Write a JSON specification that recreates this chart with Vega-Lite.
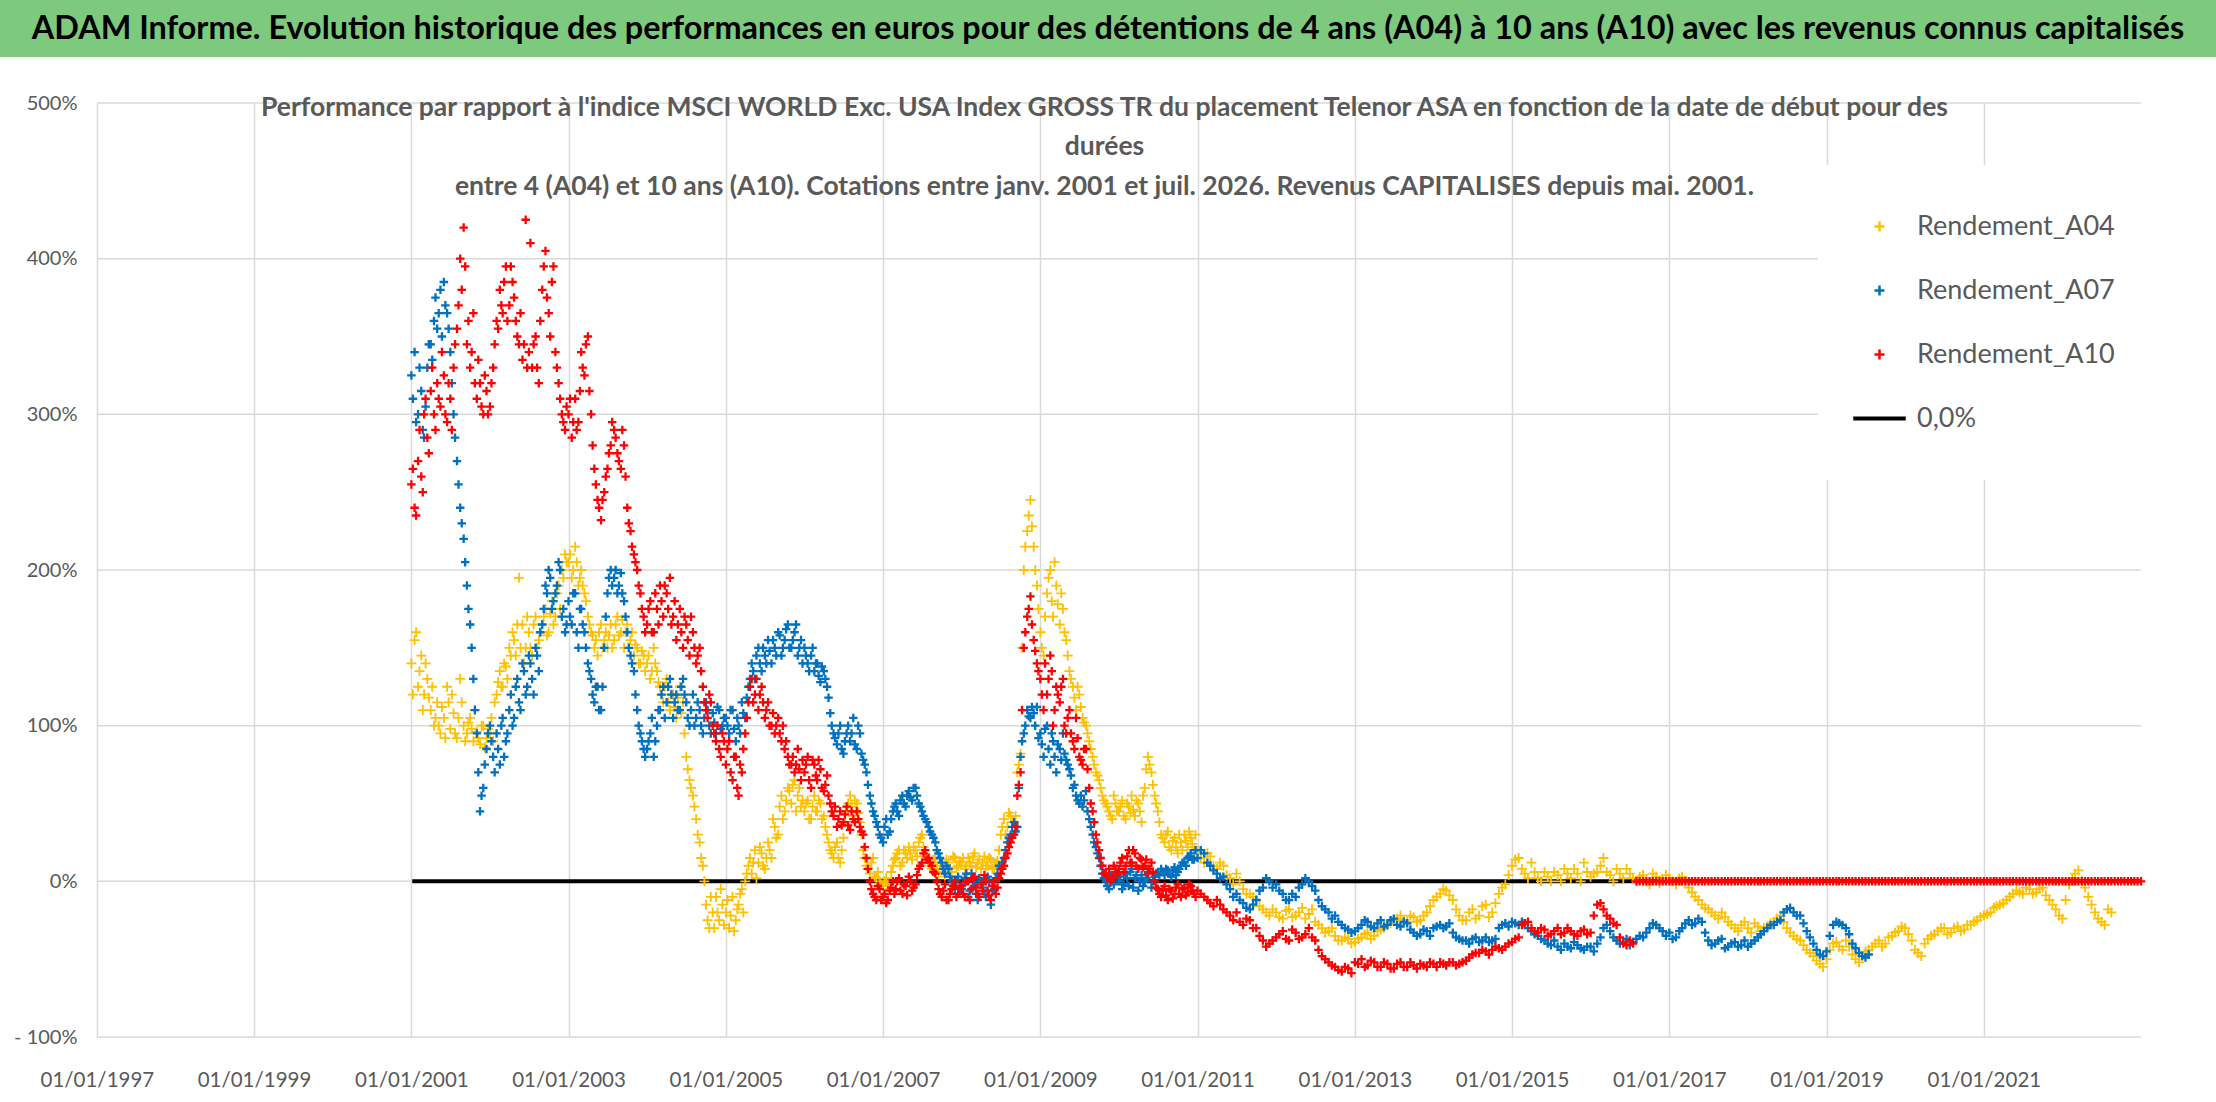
{
  "$schema": "https://vega.github.io/schema/vega-lite/v6.json",
  "padding": 0,
  "background": "white",
  "spacing": 36,
  "config": {"view": {"stroke": null}, "font": "Lato"},
  "datasets": {
    "zero": [{"d": "2001-01-05", "v": 0}, {"d": "2023-01-01", "v": 0}],
    "ygrid": [{"g": -100}, {"g": 0}, {"g": 100}, {"g": 200}, {"g": 300}, {"g": 400}, {"g": 500}],
    "perf": [
      {"d":"2001-01-01","a":140,"b":325,"c":255},{"d":"2001-01-16","a":155,"b":340,"c":240},
      {"d":"2001-02-01","a":125,"b":300,"c":270},{"d":"2001-02-16","a":145,"b":315,"c":260},
      {"d":"2001-03-01","a":120,"b":285,"c":300},{"d":"2001-03-16","a":130,"b":330,"c":285},
      {"d":"2001-04-01","a":110,"b":345,"c":315},{"d":"2001-04-16","a":100,"b":360,"c":300},
      {"d":"2001-05-01","a":115,"b":355,"c":320},{"d":"2001-05-16","a":95,"b":380,"c":305},
      {"d":"2001-06-01","a":105,"b":385,"c":325},{"d":"2001-06-16","a":125,"b":365,"c":295},
      {"d":"2001-07-01","a":98,"b":340,"c":310},{"d":"2001-07-16","a":108,"b":300,"c":330},
      {"d":"2001-08-01","a":92,"b":270,"c":355},{"d":"2001-08-16","a":130,"b":240,"c":400},
      {"d":"2001-09-01","a":100,"b":220,"c":420},{"d":"2001-09-16","a":95,"b":190,"c":345},
      {"d":"2001-10-01","a":105,"b":165,"c":330},{"d":"2001-10-16","a":90,"b":130,"c":365},
      {"d":"2001-11-01","a":96,"b":95,"c":310},{"d":"2001-11-16","a":88,"b":45,"c":320},
      {"d":"2001-12-01","a":100,"b":60,"c":300},{"d":"2001-12-16","a":92,"b":85,"c":315},
      {"d":"2002-01-01","a":95,"b":100,"c":305},{"d":"2002-01-16","a":90,"b":80,"c":330},
      {"d":"2002-02-01","a":120,"b":95,"c":360},{"d":"2002-02-16","a":135,"b":75,"c":380},
      {"d":"2002-03-01","a":125,"b":105,"c":365},{"d":"2002-03-16","a":138,"b":90,"c":395},
      {"d":"2002-04-01","a":150,"b":110,"c":370},{"d":"2002-04-16","a":160,"b":100,"c":385},
      {"d":"2002-05-01","a":145,"b":125,"c":360},{"d":"2002-05-16","a":195,"b":115,"c":345},
      {"d":"2002-06-01","a":165,"b":140,"c":335},{"d":"2002-06-16","a":150,"b":120,"c":425},
      {"d":"2002-07-01","a":160,"b":145,"c":340},{"d":"2002-07-16","a":145,"b":130,"c":330},
      {"d":"2002-08-01","a":170,"b":150,"c":350},{"d":"2002-08-16","a":155,"b":135,"c":320},
      {"d":"2002-09-01","a":165,"b":165,"c":380},{"d":"2002-09-16","a":175,"b":190,"c":405},
      {"d":"2002-10-01","a":160,"b":200,"c":365},{"d":"2002-10-16","a":180,"b":175,"c":385},
      {"d":"2002-11-01","a":170,"b":185,"c":340},{"d":"2002-11-16","a":190,"b":205,"c":320},
      {"d":"2002-12-01","a":200,"b":170,"c":300},{"d":"2002-12-16","a":210,"b":160,"c":290},
      {"d":"2003-01-01","a":205,"b":180,"c":300},{"d":"2003-01-16","a":195,"b":165,"c":285},
      {"d":"2003-02-01","a":215,"b":185,"c":310},{"d":"2003-02-16","a":190,"b":150,"c":295},
      {"d":"2003-03-01","a":200,"b":175,"c":340},{"d":"2003-03-16","a":185,"b":160,"c":325},
      {"d":"2003-04-01","a":170,"b":140,"c":350},{"d":"2003-04-16","a":160,"b":130,"c":300},
      {"d":"2003-05-01","a":150,"b":115,"c":265},{"d":"2003-05-16","a":145,"b":125,"c":245},
      {"d":"2003-06-01","a":165,"b":110,"c":232},{"d":"2003-06-16","a":155,"b":150,"c":250},
      {"d":"2003-07-01","a":150,"b":185,"c":265},{"d":"2003-07-16","a":165,"b":200,"c":280},
      {"d":"2003-08-01","a":155,"b":195,"c":290},{"d":"2003-08-16","a":170,"b":185,"c":275},
      {"d":"2003-09-01","a":160,"b":198,"c":265},{"d":"2003-09-16","a":150,"b":180,"c":280},
      {"d":"2003-10-01","a":165,"b":160,"c":240},{"d":"2003-10-16","a":155,"b":145,"c":225},
      {"d":"2003-11-01","a":145,"b":135,"c":210},{"d":"2003-11-16","a":150,"b":110,"c":200},
      {"d":"2003-12-01","a":140,"b":95,"c":185},{"d":"2003-12-16","a":145,"b":85,"c":170},
      {"d":"2004-01-01","a":140,"b":85,"c":165},{"d":"2004-01-16","a":130,"b":95,"c":180},
      {"d":"2004-02-01","a":150,"b":80,"c":160},{"d":"2004-02-16","a":135,"b":100,"c":175},
      {"d":"2004-03-01","a":125,"b":110,"c":190},{"d":"2004-03-16","a":115,"b":125,"c":170},
      {"d":"2004-04-01","a":130,"b":115,"c":185},{"d":"2004-04-16","a":110,"b":130,"c":195},
      {"d":"2004-05-01","a":120,"b":105,"c":170},{"d":"2004-05-16","a":105,"b":120,"c":155},
      {"d":"2004-06-01","a":125,"b":110,"c":175},{"d":"2004-06-16","a":115,"b":130,"c":150},
      {"d":"2004-07-01","a":80,"b":115,"c":165},{"d":"2004-07-16","a":65,"b":100,"c":145},
      {"d":"2004-08-01","a":55,"b":120,"c":160},{"d":"2004-08-16","a":40,"b":105,"c":140},
      {"d":"2004-09-01","a":25,"b":110,"c":150},{"d":"2004-09-16","a":10,"b":95,"c":125},
      {"d":"2004-10-01","a":-15,"b":115,"c":110},{"d":"2004-10-16","a":-30,"b":100,"c":120},
      {"d":"2004-11-01","a":-20,"b":108,"c":100},{"d":"2004-11-16","a":-10,"b":95,"c":90},
      {"d":"2004-12-01","a":-25,"b":110,"c":85},{"d":"2004-12-16","a":-15,"b":100,"c":95},
      {"d":"2005-01-01","a":-20,"b":105,"c":75},{"d":"2005-01-16","a":-30,"b":95,"c":90},
      {"d":"2005-02-01","a":-10,"b":110,"c":65},{"d":"2005-02-16","a":-25,"b":90,"c":80},
      {"d":"2005-03-01","a":-15,"b":100,"c":55},{"d":"2005-03-16","a":-5,"b":115,"c":70},
      {"d":"2005-04-01","a":0,"b":105,"c":95},{"d":"2005-04-16","a":10,"b":125,"c":115},
      {"d":"2005-05-01","a":5,"b":140,"c":130},{"d":"2005-05-16","a":20,"b":130,"c":120},
      {"d":"2005-06-01","a":12,"b":150,"c":110},{"d":"2005-06-16","a":18,"b":135,"c":125},
      {"d":"2005-07-01","a":8,"b":145,"c":105},{"d":"2005-07-16","a":25,"b":155,"c":115},
      {"d":"2005-08-01","a":15,"b":140,"c":100},{"d":"2005-08-16","a":35,"b":150,"c":95},
      {"d":"2005-09-01","a":30,"b":160,"c":105},{"d":"2005-09-16","a":55,"b":145,"c":90},
      {"d":"2005-10-01","a":45,"b":155,"c":85},{"d":"2005-10-16","a":60,"b":165,"c":80},
      {"d":"2005-11-01","a":50,"b":150,"c":75},{"d":"2005-11-16","a":65,"b":160,"c":70},
      {"d":"2005-12-01","a":55,"b":145,"c":85},{"d":"2005-12-16","a":48,"b":155,"c":65},
      {"d":"2006-01-01","a":45,"b":150,"c":70},{"d":"2006-01-16","a":52,"b":140,"c":80},
      {"d":"2006-02-01","a":40,"b":145,"c":60},{"d":"2006-02-16","a":55,"b":135,"c":75},
      {"d":"2006-03-01","a":45,"b":140,"c":65},{"d":"2006-03-16","a":50,"b":128,"c":72},
      {"d":"2006-04-01","a":42,"b":135,"c":58},{"d":"2006-04-16","a":30,"b":125,"c":68},
      {"d":"2006-05-01","a":20,"b":108,"c":50},{"d":"2006-05-16","a":15,"b":95,"c":42},
      {"d":"2006-06-01","a":25,"b":88,"c":35},{"d":"2006-06-16","a":12,"b":100,"c":45},
      {"d":"2006-07-01","a":28,"b":82,"c":38},{"d":"2006-07-16","a":45,"b":95,"c":48},
      {"d":"2006-08-01","a":55,"b":90,"c":33},{"d":"2006-08-16","a":42,"b":105,"c":40},
      {"d":"2006-09-01","a":50,"b":85,"c":45},{"d":"2006-09-16","a":38,"b":95,"c":35},
      {"d":"2006-10-01","a":20,"b":78,"c":30},{"d":"2006-10-16","a":10,"b":70,"c":15},
      {"d":"2006-11-01","a":5,"b":55,"c":0},{"d":"2006-11-16","a":15,"b":45,"c":-8},
      {"d":"2006-12-01","a":2,"b":38,"c":-12},{"d":"2006-12-16","a":0,"b":30,"c":-5},
      {"d":"2007-01-01","a":-3,"b":25,"c":-10},{"d":"2007-01-16","a":2,"b":40,"c":-14},
      {"d":"2007-02-01","a":-5,"b":32,"c":-6},{"d":"2007-02-16","a":10,"b":45,"c":0},
      {"d":"2007-03-01","a":15,"b":50,"c":-5},{"d":"2007-03-16","a":20,"b":42,"c":2},
      {"d":"2007-04-01","a":12,"b":55,"c":-8},{"d":"2007-04-16","a":18,"b":48,"c":-3},
      {"d":"2007-05-01","a":22,"b":58,"c":3},{"d":"2007-05-16","a":14,"b":52,"c":-6},
      {"d":"2007-06-01","a":20,"b":60,"c":-2},{"d":"2007-06-16","a":25,"b":50,"c":8},
      {"d":"2007-07-01","a":30,"b":45,"c":12},{"d":"2007-07-16","a":18,"b":40,"c":20},
      {"d":"2007-08-01","a":12,"b":35,"c":15},{"d":"2007-08-16","a":8,"b":30,"c":10},
      {"d":"2007-09-01","a":15,"b":25,"c":5},{"d":"2007-09-16","a":5,"b":18,"c":-5},
      {"d":"2007-10-01","a":10,"b":12,"c":-10},{"d":"2007-10-16","a":3,"b":5,"c":-2},
      {"d":"2007-11-01","a":12,"b":8,"c":-12},{"d":"2007-11-16","a":6,"b":0,"c":-5},
      {"d":"2007-12-01","a":15,"b":-5,"c":0},{"d":"2007-12-16","a":10,"b":3,"c":-8},
      {"d":"2008-01-01","a":12,"b":-5,"c":-3},{"d":"2008-01-16","a":8,"b":2,"c":-10},
      {"d":"2008-02-01","a":15,"b":-10,"c":0},{"d":"2008-02-16","a":10,"b":5,"c":-5},
      {"d":"2008-03-01","a":18,"b":-3,"c":3},{"d":"2008-03-16","a":12,"b":-12,"c":-8},
      {"d":"2008-04-01","a":8,"b":0,"c":-2},{"d":"2008-04-16","a":16,"b":-8,"c":4},
      {"d":"2008-05-01","a":10,"b":3,"c":-6},{"d":"2008-05-16","a":14,"b":-15,"c":-12},
      {"d":"2008-06-01","a":9,"b":-5,"c":0},{"d":"2008-06-16","a":13,"b":5,"c":-4},
      {"d":"2008-07-01","a":30,"b":8,"c":5},{"d":"2008-07-16","a":40,"b":15,"c":10},
      {"d":"2008-08-01","a":35,"b":25,"c":18},{"d":"2008-08-16","a":42,"b":30,"c":25},
      {"d":"2008-09-01","a":38,"b":38,"c":30},{"d":"2008-09-16","a":70,"b":35,"c":55},
      {"d":"2008-10-01","a":82,"b":80,"c":70},{"d":"2008-10-16","a":200,"b":95,"c":150},
      {"d":"2008-11-01","a":225,"b":110,"c":170},{"d":"2008-11-16","a":245,"b":105,"c":183},
      {"d":"2008-12-01","a":215,"b":108,"c":155},{"d":"2008-12-16","a":190,"b":112,"c":140},
      {"d":"2009-01-01","a":160,"b":95,"c":130},{"d":"2009-01-16","a":145,"b":80,"c":110},
      {"d":"2009-02-01","a":185,"b":100,"c":120},{"d":"2009-02-16","a":200,"b":75,"c":145},
      {"d":"2009-03-01","a":170,"b":90,"c":100},{"d":"2009-03-16","a":190,"b":70,"c":125},
      {"d":"2009-04-01","a":165,"b":85,"c":115},{"d":"2009-04-16","a":175,"b":95,"c":130},
      {"d":"2009-05-01","a":155,"b":78,"c":95},{"d":"2009-05-16","a":135,"b":72,"c":110},
      {"d":"2009-06-01","a":125,"b":60,"c":90},{"d":"2009-06-16","a":110,"b":55,"c":105},
      {"d":"2009-07-01","a":120,"b":50,"c":80},{"d":"2009-07-16","a":105,"b":48,"c":75},
      {"d":"2009-08-01","a":100,"b":58,"c":85},{"d":"2009-08-16","a":90,"b":40,"c":60},
      {"d":"2009-09-01","a":80,"b":30,"c":45},{"d":"2009-09-16","a":70,"b":22,"c":30},
      {"d":"2009-10-01","a":65,"b":15,"c":20},{"d":"2009-10-16","a":55,"b":5,"c":10},
      {"d":"2009-11-01","a":50,"b":0,"c":5},{"d":"2009-11-16","a":45,"b":-5,"c":8},
      {"d":"2009-12-01","a":40,"b":3,"c":2},{"d":"2009-12-16","a":50,"b":8,"c":6},
      {"d":"2010-01-01","a":45,"b":0,"c":8},{"d":"2010-01-16","a":52,"b":-5,"c":15},
      {"d":"2010-02-01","a":40,"b":5,"c":10},{"d":"2010-02-16","a":48,"b":-3,"c":20},
      {"d":"2010-03-01","a":55,"b":8,"c":12},{"d":"2010-03-16","a":42,"b":2,"c":18},
      {"d":"2010-04-01","a":50,"b":-6,"c":8},{"d":"2010-04-16","a":38,"b":4,"c":14},
      {"d":"2010-05-01","a":60,"b":0,"c":10},{"d":"2010-05-16","a":80,"b":6,"c":5},
      {"d":"2010-06-01","a":70,"b":-4,"c":12},{"d":"2010-06-16","a":55,"b":3,"c":0},
      {"d":"2010-07-01","a":45,"b":5,"c":-5},{"d":"2010-07-16","a":30,"b":8,"c":-10},
      {"d":"2010-08-01","a":25,"b":4,"c":-3},{"d":"2010-08-16","a":32,"b":7,"c":-12},
      {"d":"2010-09-01","a":20,"b":3,"c":-6},{"d":"2010-09-16","a":28,"b":9,"c":-8},
      {"d":"2010-10-01","a":18,"b":6,"c":-2},{"d":"2010-10-16","a":25,"b":10,"c":-10},
      {"d":"2010-11-01","a":30,"b":12,"c":-4},{"d":"2010-11-16","a":22,"b":15,"c":-7},
      {"d":"2010-12-01","a":28,"b":18,"c":-3},{"d":"2010-12-16","a":20,"b":14,"c":-8},
      {"d":"2001-01-08","a":120,"b":310,"c":265},{"d":"2001-01-23","a":160,"b":295,"c":235},
      {"d":"2001-02-08","a":135,"b":330,"c":290},{"d":"2001-02-23","a":110,"b":290,"c":250},
      {"d":"2001-03-08","a":140,"b":305,"c":310},{"d":"2001-03-23","a":118,"b":345,"c":275},
      {"d":"2001-04-08","a":125,"b":335,"c":330},{"d":"2001-04-23","a":105,"b":375,"c":290},
      {"d":"2001-05-08","a":100,"b":365,"c":310},{"d":"2001-05-23","a":112,"b":350,"c":340},
      {"d":"2001-06-08","a":92,"b":370,"c":300},{"d":"2001-06-23","a":115,"b":355,"c":320},
      {"d":"2001-07-08","a":120,"b":320,"c":290},{"d":"2001-07-23","a":95,"b":285,"c":345},
      {"d":"2001-08-08","a":105,"b":255,"c":370},{"d":"2001-08-23","a":115,"b":230,"c":380},
      {"d":"2001-09-08","a":90,"b":205,"c":395},{"d":"2001-09-23","a":102,"b":175,"c":360},
      {"d":"2001-10-08","a":98,"b":150,"c":340},{"d":"2001-10-23","a":110,"b":110,"c":320},
      {"d":"2001-11-08","a":92,"b":70,"c":335},{"d":"2001-11-23","a":100,"b":55,"c":305},
      {"d":"2001-12-08","a":86,"b":75,"c":325},{"d":"2001-12-23","a":98,"b":95,"c":300},
      {"d":"2002-01-08","a":105,"b":90,"c":320},{"d":"2002-01-23","a":115,"b":70,"c":345},
      {"d":"2002-02-08","a":128,"b":85,"c":355},{"d":"2002-02-23","a":125,"b":100,"c":370},
      {"d":"2002-03-08","a":140,"b":80,"c":385},{"d":"2002-03-23","a":130,"b":95,"c":360},
      {"d":"2002-04-08","a":145,"b":120,"c":395},{"d":"2002-04-23","a":155,"b":105,"c":375},
      {"d":"2002-05-08","a":165,"b":130,"c":350},{"d":"2002-05-23","a":150,"b":110,"c":365},
      {"d":"2002-06-08","a":140,"b":135,"c":345},{"d":"2002-06-23","a":170,"b":125,"c":330},
      {"d":"2002-07-08","a":150,"b":140,"c":410},{"d":"2002-07-23","a":165,"b":120,"c":345},
      {"d":"2002-08-08","a":150,"b":145,"c":330},{"d":"2002-08-23","a":160,"b":160,"c":360},
      {"d":"2002-09-08","a":170,"b":175,"c":395},{"d":"2002-09-23","a":158,"b":185,"c":375},
      {"d":"2002-10-08","a":172,"b":195,"c":350},{"d":"2002-10-23","a":165,"b":180,"c":395},
      {"d":"2002-11-08","a":185,"b":190,"c":330},{"d":"2002-11-23","a":175,"b":200,"c":310},
      {"d":"2002-12-08","a":195,"b":175,"c":295},{"d":"2002-12-23","a":205,"b":165,"c":305},
      {"d":"2003-01-08","a":210,"b":170,"c":310},{"d":"2003-01-23","a":200,"b":185,"c":295},
      {"d":"2003-02-08","a":205,"b":160,"c":290},{"d":"2003-02-23","a":195,"b":175,"c":315},
      {"d":"2003-03-08","a":190,"b":165,"c":330},{"d":"2003-03-23","a":180,"b":150,"c":345},
      {"d":"2003-04-08","a":165,"b":135,"c":315},{"d":"2003-04-23","a":158,"b":120,"c":280},
      {"d":"2003-05-08","a":155,"b":125,"c":255},{"d":"2003-05-23","a":160,"b":110,"c":240},
      {"d":"2003-06-08","a":150,"b":125,"c":245},{"d":"2003-06-23","a":160,"b":170,"c":260},
      {"d":"2003-07-08","a":158,"b":195,"c":275},{"d":"2003-07-23","a":150,"b":190,"c":295},
      {"d":"2003-08-08","a":165,"b":200,"c":285},{"d":"2003-08-23","a":158,"b":190,"c":270},
      {"d":"2003-09-08","a":168,"b":185,"c":290},{"d":"2003-09-23","a":160,"b":170,"c":260},
      {"d":"2003-10-08","a":150,"b":150,"c":230},{"d":"2003-10-23","a":160,"b":140,"c":215},
      {"d":"2003-11-08","a":152,"b":120,"c":205},{"d":"2003-11-23","a":140,"b":100,"c":190},
      {"d":"2003-12-08","a":148,"b":90,"c":175},{"d":"2003-12-23","a":135,"b":80,"c":160},
      {"d":"2004-01-08","a":145,"b":90,"c":175},{"d":"2004-01-23","a":135,"b":105,"c":160},
      {"d":"2004-02-08","a":140,"b":90,"c":185},{"d":"2004-02-23","a":128,"b":110,"c":165},
      {"d":"2004-03-08","a":120,"b":120,"c":180},{"d":"2004-03-23","a":125,"b":105,"c":190},
      {"d":"2004-04-08","a":115,"b":125,"c":175},{"d":"2004-04-23","a":120,"b":120,"c":165},
      {"d":"2004-05-08","a":112,"b":115,"c":180},{"d":"2004-05-23","a":118,"b":110,"c":165},
      {"d":"2004-06-08","a":108,"b":125,"c":160},{"d":"2004-06-23","a":95,"b":120,"c":170},
      {"d":"2004-07-08","a":72,"b":105,"c":155},{"d":"2004-07-23","a":60,"b":110,"c":170},
      {"d":"2004-08-08","a":48,"b":100,"c":150},{"d":"2004-08-23","a":30,"b":115,"c":145},
      {"d":"2004-09-08","a":15,"b":100,"c":135},{"d":"2004-09-23","a":0,"b":105,"c":115},
      {"d":"2004-10-08","a":-25,"b":110,"c":105},{"d":"2004-10-23","a":-10,"b":95,"c":115},
      {"d":"2004-11-08","a":-30,"b":102,"c":95},{"d":"2004-11-23","a":-20,"b":112,"c":100},
      {"d":"2004-12-08","a":-5,"b":98,"c":80},{"d":"2004-12-23","a":-28,"b":105,"c":90},
      {"d":"2005-01-08","a":-12,"b":100,"c":85},{"d":"2005-01-23","a":-22,"b":110,"c":70},
      {"d":"2005-02-08","a":-32,"b":98,"c":80},{"d":"2005-02-23","a":-18,"b":105,"c":60},
      {"d":"2005-03-08","a":-8,"b":95,"c":75},{"d":"2005-03-23","a":-20,"b":108,"c":85},
      {"d":"2005-04-08","a":5,"b":118,"c":105},{"d":"2005-04-23","a":15,"b":130,"c":125},
      {"d":"2005-05-08","a":12,"b":135,"c":115},{"d":"2005-05-23","a":2,"b":145,"c":130},
      {"d":"2005-06-08","a":22,"b":140,"c":120},{"d":"2005-06-23","a":10,"b":150,"c":115},
      {"d":"2005-07-08","a":15,"b":140,"c":110},{"d":"2005-07-23","a":20,"b":148,"c":100},
      {"d":"2005-08-08","a":40,"b":155,"c":108},{"d":"2005-08-23","a":28,"b":145,"c":100},
      {"d":"2005-09-08","a":48,"b":158,"c":95},{"d":"2005-09-23","a":40,"b":150,"c":100},
      {"d":"2005-10-08","a":52,"b":162,"c":90},{"d":"2005-10-23","a":58,"b":150,"c":75},
      {"d":"2005-11-08","a":62,"b":155,"c":80},{"d":"2005-11-23","a":45,"b":165,"c":75},
      {"d":"2005-12-08","a":60,"b":150,"c":72},{"d":"2005-12-23","a":52,"b":140,"c":78},
      {"d":"2006-01-08","a":50,"b":145,"c":75},{"d":"2006-01-23","a":40,"b":135,"c":65},
      {"d":"2006-02-08","a":48,"b":150,"c":78},{"d":"2006-02-23","a":45,"b":140,"c":68},
      {"d":"2006-03-08","a":52,"b":132,"c":78},{"d":"2006-03-23","a":40,"b":138,"c":60},
      {"d":"2006-04-08","a":35,"b":130,"c":62},{"d":"2006-04-23","a":25,"b":118,"c":55},
      {"d":"2006-05-08","a":18,"b":100,"c":45},{"d":"2006-05-23","a":22,"b":92,"c":48},
      {"d":"2006-06-08","a":15,"b":95,"c":40},{"d":"2006-06-23","a":20,"b":85,"c":36},
      {"d":"2006-07-08","a":38,"b":90,"c":43},{"d":"2006-07-23","a":50,"b":100,"c":36},
      {"d":"2006-08-08","a":48,"b":95,"c":45},{"d":"2006-08-23","a":52,"b":88,"c":38},
      {"d":"2006-09-08","a":44,"b":100,"c":40},{"d":"2006-09-23","a":30,"b":82,"c":32},
      {"d":"2006-10-08","a":15,"b":75,"c":22},{"d":"2006-10-23","a":8,"b":62,"c":8},
      {"d":"2006-11-08","a":12,"b":50,"c":-5},{"d":"2006-11-23","a":3,"b":42,"c":-10},
      {"d":"2006-12-08","a":6,"b":35,"c":-3},{"d":"2006-12-23","a":-2,"b":28,"c":-12},
      {"d":"2007-01-08","a":0,"b":35,"c":-8},{"d":"2007-01-23","a":-2,"b":30,"c":-12},
      {"d":"2007-02-08","a":6,"b":40,"c":-4},{"d":"2007-02-23","a":14,"b":48,"c":-8},
      {"d":"2007-03-08","a":18,"b":45,"c":0},{"d":"2007-03-23","a":10,"b":52,"c":-6},
      {"d":"2007-04-08","a":20,"b":50,"c":-2},{"d":"2007-04-23","a":15,"b":55,"c":-9},
      {"d":"2007-05-08","a":18,"b":54,"c":0},{"d":"2007-05-23","a":22,"b":60,"c":-4},
      {"d":"2007-06-08","a":16,"b":55,"c":4},{"d":"2007-06-23","a":28,"b":48,"c":10},
      {"d":"2007-07-08","a":22,"b":42,"c":18},{"d":"2007-07-23","a":15,"b":38,"c":14},
      {"d":"2007-08-08","a":10,"b":32,"c":12},{"d":"2007-08-23","a":14,"b":28,"c":6},
      {"d":"2007-09-08","a":8,"b":20,"c":0},{"d":"2007-09-23","a":12,"b":15,"c":-8},
      {"d":"2007-10-08","a":6,"b":8,"c":-6},{"d":"2007-10-23","a":14,"b":10,"c":-12},
      {"d":"2007-11-08","a":8,"b":3,"c":-8},{"d":"2007-11-23","a":16,"b":-3,"c":-3},
      {"d":"2007-12-08","a":9,"b":0,"c":-10},{"d":"2007-12-23","a":13,"b":-8,"c":-4},
      {"d":"2008-01-08","a":15,"b":-2,"c":-8},{"d":"2008-01-23","a":10,"b":5,"c":0},
      {"d":"2008-02-08","a":12,"b":-6,"c":-12},{"d":"2008-02-23","a":16,"b":0,"c":2},
      {"d":"2008-03-08","a":9,"b":-8,"c":-4},{"d":"2008-03-23","a":14,"b":2,"c":-10},
      {"d":"2008-04-08","a":12,"b":-4,"c":-6},{"d":"2008-04-23","a":10,"b":-10,"c":0},
      {"d":"2008-05-08","a":15,"b":0,"c":-9},{"d":"2008-05-23","a":8,"b":-6,"c":-3},
      {"d":"2008-06-08","a":12,"b":2,"c":-8},{"d":"2008-06-23","a":20,"b":10,"c":2},
      {"d":"2008-07-08","a":35,"b":12,"c":8},{"d":"2008-07-23","a":30,"b":20,"c":15},
      {"d":"2008-08-08","a":44,"b":28,"c":22},{"d":"2008-08-23","a":38,"b":35,"c":28},
      {"d":"2008-09-08","a":42,"b":32,"c":35},{"d":"2008-09-23","a":75,"b":60,"c":62},
      {"d":"2008-10-08","a":150,"b":90,"c":110},{"d":"2008-10-23","a":215,"b":100,"c":160},
      {"d":"2008-11-08","a":235,"b":106,"c":175},{"d":"2008-11-23","a":228,"b":112,"c":165},
      {"d":"2008-12-08","a":200,"b":100,"c":148},{"d":"2008-12-23","a":175,"b":92,"c":135},
      {"d":"2009-01-08","a":150,"b":88,"c":120},{"d":"2009-01-23","a":170,"b":98,"c":140},
      {"d":"2009-02-08","a":195,"b":85,"c":130},{"d":"2009-02-23","a":180,"b":95,"c":135},
      {"d":"2009-03-08","a":205,"b":80,"c":110},{"d":"2009-03-23","a":178,"b":88,"c":120},
      {"d":"2009-04-08","a":185,"b":78,"c":125},{"d":"2009-04-23","a":160,"b":82,"c":100},
      {"d":"2009-05-08","a":145,"b":75,"c":105},{"d":"2009-05-23","a":130,"b":68,"c":95},
      {"d":"2009-06-08","a":118,"b":62,"c":85},{"d":"2009-06-23","a":125,"b":52,"c":92},
      {"d":"2009-07-08","a":112,"b":55,"c":78},{"d":"2009-07-23","a":102,"b":52,"c":85},
      {"d":"2009-08-08","a":95,"b":45,"c":72},{"d":"2009-08-23","a":85,"b":35,"c":50},
      {"d":"2009-09-08","a":75,"b":25,"c":38},{"d":"2009-09-23","a":68,"b":18,"c":25},
      {"d":"2009-10-08","a":60,"b":10,"c":15},{"d":"2009-10-23","a":52,"b":2,"c":5},
      {"d":"2009-11-08","a":48,"b":-3,"c":3},{"d":"2009-11-23","a":42,"b":4,"c":0},
      {"d":"2009-12-08","a":55,"b":-2,"c":10},{"d":"2009-12-23","a":45,"b":5,"c":4},
      {"d":"2010-01-08","a":48,"b":3,"c":12},{"d":"2010-01-23","a":42,"b":-2,"c":6},
      {"d":"2010-02-08","a":50,"b":2,"c":16},{"d":"2010-02-23","a":44,"b":6,"c":12},
      {"d":"2010-03-08","a":46,"b":-4,"c":20},{"d":"2010-03-23","a":52,"b":4,"c":10},
      {"d":"2010-04-08","a":45,"b":0,"c":15},{"d":"2010-04-23","a":55,"b":-3,"c":9},
      {"d":"2010-05-08","a":72,"b":2,"c":14},{"d":"2010-05-23","a":75,"b":8,"c":8},
      {"d":"2010-06-08","a":62,"b":0,"c":6},{"d":"2010-06-23","a":50,"b":5,"c":-4},
      {"d":"2010-07-08","a":38,"b":4,"c":-8},{"d":"2010-07-23","a":28,"b":6,"c":-6},
      {"d":"2010-08-08","a":30,"b":8,"c":-9},{"d":"2010-08-23","a":22,"b":5,"c":-5},
      {"d":"2010-09-08","a":26,"b":7,"c":-11},{"d":"2010-09-23","a":22,"b":4,"c":-4},
      {"d":"2010-10-08","a":30,"b":8,"c":-8},{"d":"2010-10-23","a":20,"b":12,"c":-5},
      {"d":"2010-11-08","a":26,"b":10,"c":-9},{"d":"2010-11-23","a":32,"b":16,"c":-2},
      {"d":"2010-12-08","a":24,"b":14,"c":-6},{"d":"2010-12-23","a":30,"b":20,"c":-10},
      {"d":"2011-01-01","a":20,"b":15,"c":-6},{"d":"2011-02-01","a":12,"b":18,"c":-10},
      {"d":"2011-03-01","a":16,"b":10,"c":-14},{"d":"2011-04-01","a":8,"b":5,"c":-12},
      {"d":"2011-05-01","a":10,"b":3,"c":-18},{"d":"2011-06-01","a":2,"b":-5,"c":-22},
      {"d":"2011-07-01","a":5,"b":-8,"c":-20},{"d":"2011-08-01","a":-5,"b":-14,"c":-28},
      {"d":"2011-09-01","a":-8,"b":-18,"c":-25},{"d":"2011-10-01","a":-12,"b":-12,"c":-30},
      {"d":"2011-11-01","a":-18,"b":-4,"c":-38},{"d":"2011-12-01","a":-22,"b":0,"c":-40},
      {"d":"2012-01-01","a":-20,"b":-2,"c":-36},{"d":"2012-02-01","a":-24,"b":-8,"c":-32},
      {"d":"2012-03-01","a":-18,"b":-12,"c":-38},{"d":"2012-04-01","a":-22,"b":-10,"c":-33},
      {"d":"2012-05-01","a":-17,"b":-2,"c":-36},{"d":"2012-06-01","a":-21,"b":0,"c":-30},
      {"d":"2012-07-01","a":-26,"b":-6,"c":-38},{"d":"2012-08-01","a":-30,"b":-16,"c":-48},
      {"d":"2012-09-01","a":-32,"b":-20,"c":-52},{"d":"2012-10-01","a":-35,"b":-22,"c":-55},
      {"d":"2012-11-01","a":-38,"b":-28,"c":-58},{"d":"2012-12-01","a":-37,"b":-31,"c":-56},
      {"d":"2013-01-01","a":-39,"b":-32,"c":-52},{"d":"2013-02-01","a":-36,"b":-28,"c":-50},
      {"d":"2013-03-01","a":-33,"b":-26,"c":-54},{"d":"2013-04-01","a":-35,"b":-30,"c":-52},
      {"d":"2013-05-01","a":-31,"b":-25,"c":-55},{"d":"2013-06-01","a":-28,"b":-28,"c":-53},
      {"d":"2013-07-01","a":-25,"b":-24,"c":-56},{"d":"2013-08-01","a":-22,"b":-29,"c":-52},
      {"d":"2013-09-01","a":-26,"b":-27,"c":-55},{"d":"2013-10-01","a":-23,"b":-33,"c":-54},
      {"d":"2013-11-01","a":-25,"b":-34,"c":-53},{"d":"2013-12-01","a":-20,"b":-32,"c":-55},
      {"d":"2014-01-01","a":-12,"b":-30,"c":-53},{"d":"2014-02-01","a":-8,"b":-28,"c":-52},
      {"d":"2014-03-01","a":-6,"b":-29,"c":-54},{"d":"2014-04-01","a":-12,"b":-33,"c":-52},
      {"d":"2014-05-01","a":-22,"b":-37,"c":-53},{"d":"2014-06-01","a":-25,"b":-38,"c":-51},
      {"d":"2014-07-01","a":-18,"b":-37,"c":-47},{"d":"2014-08-01","a":-22,"b":-39,"c":-46},
      {"d":"2014-09-01","a":-15,"b":-36,"c":-45},{"d":"2014-10-01","a":-20,"b":-38,"c":-44},
      {"d":"2014-11-01","a":-8,"b":-30,"c":-43},{"d":"2014-12-01","a":-2,"b":-27,"c":-42},
      {"d":"2015-01-01","a":10,"b":-26,"c":-39},{"d":"2015-02-01","a":15,"b":-28,"c":-36},
      {"d":"2015-03-01","a":5,"b":-27,"c":-27},{"d":"2015-04-01","a":12,"b":-32,"c":-30},
      {"d":"2015-05-01","a":2,"b":-35,"c":-33},{"d":"2015-06-01","a":6,"b":-38,"c":-31},
      {"d":"2015-07-01","a":0,"b":-41,"c":-34},{"d":"2015-08-01","a":4,"b":-42,"c":-30},
      {"d":"2015-09-01","a":8,"b":-40,"c":-33},{"d":"2015-10-01","a":2,"b":-43,"c":-32},
      {"d":"2015-11-01","a":5,"b":-41,"c":-35},{"d":"2015-12-01","a":12,"b":-44,"c":-31},
      {"d":"2016-01-01","a":3,"b":-42,"c":-33},{"d":"2016-02-01","a":6,"b":-40,"c":-15},
      {"d":"2016-03-01","a":15,"b":-30,"c":-18},{"d":"2016-04-01","a":4,"b":-32,"c":-24},
      {"d":"2016-05-01","a":8,"b":-38,"c":-28},{"d":"2016-06-01","a":2,"b":-39,"c":-40},
      {"d":"2016-07-01","a":5,"b":-41,"c":-38},{"d":"2016-08-01","a":0,"b":-37,"c":0},
      {"d":"2016-09-01","a":4,"b":-36,"c":0},{"d":"2016-10-01","a":-2,"b":-30,"c":0},
      {"d":"2016-11-01","a":3,"b":-28,"c":0},{"d":"2016-12-01","a":1,"b":-32,"c":0},
      {"d":"2017-01-01","a":2,"b":-33,"c":0},{"d":"2017-02-01","a":-2,"b":-36,"c":0},
      {"d":"2017-03-01","a":3,"b":-30,"c":0},{"d":"2017-04-01","a":-4,"b":-25,"c":0},
      {"d":"2017-05-01","a":-10,"b":-27,"c":0},{"d":"2017-06-01","a":-15,"b":-26,"c":0},
      {"d":"2017-07-01","a":-18,"b":-38,"c":0},{"d":"2017-08-01","a":-22,"b":-40,"c":0},
      {"d":"2017-09-01","a":-20,"b":-37,"c":0},{"d":"2017-10-01","a":-26,"b":-42,"c":0},
      {"d":"2017-11-01","a":-30,"b":-39,"c":0},{"d":"2017-12-01","a":-28,"b":-41,"c":0},
      {"d":"2018-01-01","a":-30,"b":-42,"c":0},{"d":"2018-02-01","a":-27,"b":-38,"c":0},
      {"d":"2018-03-01","a":-32,"b":-34,"c":0},{"d":"2018-04-01","a":-29,"b":-30,"c":0},
      {"d":"2018-05-01","a":-26,"b":-28,"c":0},{"d":"2018-06-01","a":-22,"b":-25,"c":0},
      {"d":"2018-07-01","a":-30,"b":-18,"c":0},{"d":"2018-08-01","a":-35,"b":-20,"c":0},
      {"d":"2018-09-01","a":-38,"b":-22,"c":0},{"d":"2018-10-01","a":-44,"b":-32,"c":0},
      {"d":"2018-11-01","a":-48,"b":-40,"c":0},{"d":"2018-12-01","a":-53,"b":-47,"c":0},
      {"d":"2019-01-01","a":-50,"b":-45,"c":0},{"d":"2019-02-01","a":-40,"b":-28,"c":0},
      {"d":"2019-03-01","a":-42,"b":-27,"c":0},{"d":"2019-04-01","a":-38,"b":-30,"c":0},
      {"d":"2019-05-01","a":-47,"b":-40,"c":0},{"d":"2019-06-01","a":-52,"b":-46,"c":0},
      {"d":"2019-07-01","a":-45,"b":-49,"c":0},{"d":"2019-08-01","a":-42,"c":0},
      {"d":"2019-09-01","a":-38,"c":0},{"d":"2019-10-01","a":-40,"c":0},
      {"d":"2019-11-01","a":-35,"c":0},{"d":"2019-12-01","a":-32,"c":0},
      {"d":"2020-01-01","a":-30,"c":0},{"d":"2020-02-01","a":-38,"c":0},
      {"d":"2020-03-01","a":-46,"c":0},{"d":"2020-04-01","a":-40,"c":0},
      {"d":"2020-05-01","a":-35,"c":0},{"d":"2020-06-01","a":-32,"c":0},
      {"d":"2020-07-01","a":-30,"c":0},{"d":"2020-08-01","a":-33,"c":0},
      {"d":"2020-09-01","a":-29,"c":0},{"d":"2020-10-01","a":-31,"c":0},
      {"d":"2020-11-01","a":-28,"c":0},{"d":"2020-12-01","a":-25,"c":0},
      {"d":"2021-01-01","a":-22,"c":0},{"d":"2021-02-01","a":-20,"c":0},
      {"d":"2021-03-01","a":-16,"c":0},{"d":"2021-04-01","a":-14,"c":0},
      {"d":"2021-05-01","a":-10,"c":0},{"d":"2021-06-01","a":-6,"c":0},
      {"d":"2021-07-01","a":-8,"c":0},{"d":"2021-08-01","a":-5,"c":0},
      {"d":"2021-09-01","a":-7,"c":0},{"d":"2021-10-01","a":-4,"c":0},
      {"d":"2021-11-01","a":-12,"c":0},{"d":"2021-12-01","a":-18,"c":0},
      {"d":"2022-01-01","a":-24,"c":0},{"d":"2022-02-01","a":-2,"c":0},
      {"d":"2022-03-01","a":5,"c":0},{"d":"2022-04-01","a":0,"c":0},
      {"d":"2022-05-01","a":-10,"c":0},{"d":"2022-06-01","a":-20,"c":0},
      {"d":"2022-07-01","a":-26,"c":0},{"d":"2022-08-01","a":-18,"c":0},
      {"d":"2022-09-01","c":0},{"d":"2022-10-01","c":0},
      {"d":"2022-11-01","c":0},{"d":"2022-12-01","c":0},
      {"d":"2023-01-01","c":0},
      {"d":"2011-01-16","a":15,"b":20,"c":-8},{"d":"2011-02-16","a":18,"b":12,"c":-12},
      {"d":"2011-03-16","a":10,"b":7,"c":-16},{"d":"2011-04-16","a":12,"b":2,"c":-15},
      {"d":"2011-05-16","a":4,"b":-2,"c":-20},{"d":"2011-06-16","a":-2,"b":-10,"c":-25},
      {"d":"2011-07-16","a":0,"b":-12,"c":-26},{"d":"2011-08-16","a":-8,"b":-17,"c":-24},
      {"d":"2011-09-16","a":-10,"b":-15,"c":-30},{"d":"2011-10-16","a":-16,"b":-6,"c":-35},
      {"d":"2011-11-16","a":-20,"b":2,"c":-42},{"d":"2011-12-16","a":-18,"b":-4,"c":-38},
      {"d":"2012-01-16","a":-23,"b":-6,"c":-34},{"d":"2012-02-16","a":-19,"b":-12,"c":-37},
      {"d":"2012-03-16","a":-23,"b":-8,"c":-31},{"d":"2012-04-16","a":-20,"b":-4,"c":-37},
      {"d":"2012-05-16","a":-24,"b":2,"c":-34},{"d":"2012-06-16","a":-18,"b":-3,"c":-36},
      {"d":"2012-07-16","a":-28,"b":-12,"c":-44},{"d":"2012-08-16","a":-33,"b":-18,"c":-50},
      {"d":"2012-09-16","a":-30,"b":-24,"c":-54},{"d":"2012-10-16","a":-38,"b":-26,"c":-57},
      {"d":"2012-11-16","a":-36,"b":-30,"c":-55},{"d":"2012-12-16","a":-40,"b":-33,"c":-59},
      {"d":"2013-01-16","a":-37,"b":-30,"c":-53},{"d":"2013-02-16","a":-34,"b":-25,"c":-55},
      {"d":"2013-03-16","a":-37,"b":-29,"c":-51},{"d":"2013-04-16","a":-32,"b":-27,"c":-55},
      {"d":"2013-05-16","a":-30,"b":-29,"c":-52},{"d":"2013-06-16","a":-27,"b":-25,"c":-56},
      {"d":"2013-07-16","a":-24,"b":-28,"c":-53},{"d":"2013-08-16","a":-25,"b":-26,"c":-55},
      {"d":"2013-09-16","a":-22,"b":-31,"c":-52},{"d":"2013-10-16","a":-26,"b":-35,"c":-56},
      {"d":"2013-11-16","a":-22,"b":-31,"c":-54},{"d":"2013-12-16","a":-16,"b":-35,"c":-52},
      {"d":"2014-01-16","a":-10,"b":-29,"c":-55},{"d":"2014-02-16","a":-5,"b":-30,"c":-53},
      {"d":"2014-03-16","a":-9,"b":-27,"c":-52},{"d":"2014-04-16","a":-18,"b":-36,"c":-54},
      {"d":"2014-05-16","a":-25,"b":-38,"c":-52},{"d":"2014-06-16","a":-20,"b":-40,"c":-49},
      {"d":"2014-07-16","a":-24,"b":-36,"c":-46},{"d":"2014-08-16","a":-16,"b":-38,"c":-44},
      {"d":"2014-09-16","a":-23,"b":-39,"c":-47},{"d":"2014-10-16","a":-14,"b":-37,"c":-42},
      {"d":"2014-11-16","a":-4,"b":-28,"c":-44},{"d":"2014-12-16","a":4,"b":-29,"c":-40},
      {"d":"2015-01-16","a":14,"b":-27,"c":-37},{"d":"2015-02-16","a":8,"b":-26,"c":-28},
      {"d":"2015-03-16","a":2,"b":-30,"c":-26},{"d":"2015-04-16","a":6,"b":-34,"c":-32},
      {"d":"2015-05-16","a":0,"b":-37,"c":-30},{"d":"2015-06-16","a":3,"b":-40,"c":-35},
      {"d":"2015-07-16","a":6,"b":-38,"c":-32},{"d":"2015-08-16","a":0,"b":-44,"c":-34},
      {"d":"2015-09-16","a":5,"b":-42,"c":-30},{"d":"2015-10-16","a":8,"b":-39,"c":-34},
      {"d":"2015-11-16","a":0,"b":-43,"c":-32},{"d":"2015-12-16","a":6,"b":-42,"c":-34},
      {"d":"2016-01-16","a":5,"b":-45,"c":-22},{"d":"2016-02-16","a":10,"b":-36,"c":-14},
      {"d":"2016-03-16","a":6,"b":-28,"c":-22},{"d":"2016-04-16","a":0,"b":-36,"c":-27},
      {"d":"2016-05-16","a":5,"b":-40,"c":-36},{"d":"2016-06-16","a":8,"b":-37,"c":-41},
      {"d":"2016-07-16","a":2,"b":-39,"c":-40},{"d":"2016-08-16","a":3,"b":-35,"c":0},
      {"d":"2016-09-16","a":0,"b":-33,"c":0},{"d":"2016-10-16","a":5,"b":-27,"c":0},
      {"d":"2016-11-16","a":-1,"b":-30,"c":0},{"d":"2016-12-16","a":4,"b":-35,"c":0},
      {"d":"2017-01-16","a":0,"b":-37,"c":0},{"d":"2017-02-16","a":2,"b":-32,"c":0},
      {"d":"2017-03-16","a":0,"b":-27,"c":0},{"d":"2017-04-16","a":-7,"b":-28,"c":0},
      {"d":"2017-05-16","a":-12,"b":-24,"c":0},{"d":"2017-06-16","a":-17,"b":-33,"c":0},
      {"d":"2017-07-16","a":-20,"b":-41,"c":0},{"d":"2017-08-16","a":-24,"b":-38,"c":0},
      {"d":"2017-09-16","a":-23,"b":-43,"c":0},{"d":"2017-10-16","a":-28,"b":-40,"c":0},
      {"d":"2017-11-16","a":-32,"b":-42,"c":0},{"d":"2017-12-16","a":-26,"b":-38,"c":0},
      {"d":"2018-01-16","a":-33,"b":-40,"c":0},{"d":"2018-02-16","a":-29,"b":-36,"c":0},
      {"d":"2018-03-16","a":-30,"b":-32,"c":0},{"d":"2018-04-16","a":-27,"b":-28,"c":0},
      {"d":"2018-05-16","a":-24,"b":-26,"c":0},{"d":"2018-06-16","a":-26,"b":-20,"c":0},
      {"d":"2018-07-16","a":-33,"b":-17,"c":0},{"d":"2018-08-16","a":-37,"b":-22,"c":0},
      {"d":"2018-09-16","a":-41,"b":-27,"c":0},{"d":"2018-10-16","a":-46,"b":-36,"c":0},
      {"d":"2018-11-16","a":-51,"b":-44,"c":0},{"d":"2018-12-16","a":-55,"b":-48,"c":0},
      {"d":"2019-01-16","a":-44,"b":-35,"c":0},{"d":"2019-02-16","a":-39,"b":-26,"c":0},
      {"d":"2019-03-16","a":-44,"b":-28,"c":0},{"d":"2019-04-16","a":-42,"b":-34,"c":0},
      {"d":"2019-05-16","a":-50,"b":-43,"c":0},{"d":"2019-06-16","a":-48,"b":-48,"c":0},
      {"d":"2019-07-16","a":-44,"b":-47,"c":0},{"d":"2019-08-16","a":-40,"c":0},
      {"d":"2019-09-16","a":-42,"c":0},{"d":"2019-10-16","a":-36,"c":0},
      {"d":"2019-11-16","a":-33,"c":0},{"d":"2019-12-16","a":-29,"c":0},
      {"d":"2020-01-16","a":-34,"c":0},{"d":"2020-02-16","a":-44,"c":0},
      {"d":"2020-03-16","a":-48,"c":0},{"d":"2020-04-16","a":-37,"c":0},
      {"d":"2020-05-16","a":-34,"c":0},{"d":"2020-06-16","a":-30,"c":0},
      {"d":"2020-07-16","a":-34,"c":0},{"d":"2020-08-16","a":-30,"c":0},
      {"d":"2020-09-16","a":-32,"c":0},{"d":"2020-10-16","a":-28,"c":0},
      {"d":"2020-11-16","a":-26,"c":0},{"d":"2020-12-16","a":-23,"c":0},
      {"d":"2021-01-16","a":-21,"c":0},{"d":"2021-02-16","a":-17,"c":0},
      {"d":"2021-03-16","a":-15,"c":0},{"d":"2021-04-16","a":-12,"c":0},
      {"d":"2021-05-16","a":-8,"c":0},{"d":"2021-06-16","a":-7,"c":0},
      {"d":"2021-07-16","a":-4,"c":0},{"d":"2021-08-16","a":-8,"c":0},
      {"d":"2021-09-16","a":-5,"c":0},{"d":"2021-10-16","a":-9,"c":0},
      {"d":"2021-11-16","a":-15,"c":0},{"d":"2021-12-16","a":-22,"c":0},
      {"d":"2022-01-16","a":-12,"c":0},{"d":"2022-02-16","a":2,"c":0},
      {"d":"2022-03-16","a":7,"c":0},{"d":"2022-04-16","a":-4,"c":0},
      {"d":"2022-05-16","a":-15,"c":0},{"d":"2022-06-16","a":-24,"c":0},
      {"d":"2022-07-16","a":-28,"c":0},{"d":"2022-08-16","a":-20,"c":0},
      {"d":"2022-09-16","c":0},{"d":"2022-10-16","c":0},
      {"d":"2022-11-16","c":0},{"d":"2022-12-16","c":0}
    ]
  },
  "vconcat": [
    {
      "width": 2216,
      "height": 57,
      "view": {"fill": "#7DC97D", "stroke": null},
      "data": {"values": [{"t": "ADAM Informe. Evolution historique des performances en euros pour des détentions de 4 ans (A04) à 10 ans (A10) avec les revenus connus capitalisés"}]},
      "mark": {"type": "text", "font": "Lato", "fontWeight": "bold", "fontSize": 32.4, "color": "black"},
      "encoding": {"text": {"field": "t", "type": "nominal"}}
    },
    {
      "width": 2141,
      "height": 934,
      "title": {
        "text": [
          "Performance par rapport à l'indice MSCI WORLD Exc. USA Index GROSS TR  du placement Telenor ASA en fonction de la date de début pour des",
          "durées",
          "entre 4 (A04) et 10 ans (A10). Cotations entre janv. 2001 et juil. 2026. Revenus CAPITALISES depuis mai. 2001."
        ],
        "anchor": "middle",
        "frame": "group",
        "dx": 34,
        "font": "Lato",
        "fontSize": 26.5,
        "fontWeight": "bold",
        "color": "#595959",
        "lineHeight": 39.5,
        "offset": -107
      },
      "layer": [
        {
          "data": {"name": "ygrid"},
          "mark": {"type": "rule", "color": "#D9D9D9", "strokeWidth": 1.5},
          "encoding": {
            "x": {"datum": {"year": 1997, "month": 1, "date": 1, "utc": true}, "type": "temporal"},
            "x2": {"datum": {"year": 2023, "month": 1, "date": 1, "utc": true}},
            "y": {"field": "g", "type": "quantitative"}
          }
        },
        {
          "mark": {"type": "rect", "color": "white"},
          "encoding": {
            "x": {"datum": {"year": 1998, "month": 10, "date": 23, "utc": true}, "type": "temporal"},
            "x2": {"datum": {"year": 2020, "month": 9, "date": 28, "utc": true}},
            "y": {"datum": 430, "type": "quantitative"},
            "y2": {"datum": 505}
          }
        },
        {
          "data": {"name": "zero"},
          "mark": {"type": "line", "strokeWidth": 4},
          "encoding": {
            "x": {"field": "d", "type": "temporal"},
            "y": {"field": "v", "type": "quantitative"},
            "color": {"datum": "0,0%", "type": "nominal"}
          }
        },
        {
          "data": {"name": "perf"},
          "mark": {"type": "point", "filled": false, "size": 100, "strokeWidth": 1.8, "opacity": 1},
          "encoding": {
            "x": {
              "field": "d",
              "type": "temporal",
              "scale": {"type": "utc", "domain": [{"year": 1995, "month": 10, "date": 9, "utc": true}, {"year": 2023, "month": 1, "date": 1, "utc": true}]},
              "axis": {
                "title": null,
                "values": [
                  {"year": 1997, "month": 1, "date": 1, "utc": true}, {"year": 1999, "month": 1, "date": 1, "utc": true},
                  {"year": 2001, "month": 1, "date": 1, "utc": true}, {"year": 2003, "month": 1, "date": 1, "utc": true},
                  {"year": 2005, "month": 1, "date": 1, "utc": true}, {"year": 2007, "month": 1, "date": 1, "utc": true},
                  {"year": 2009, "month": 1, "date": 1, "utc": true}, {"year": 2011, "month": 1, "date": 1, "utc": true},
                  {"year": 2013, "month": 1, "date": 1, "utc": true}, {"year": 2015, "month": 1, "date": 1, "utc": true},
                  {"year": 2017, "month": 1, "date": 1, "utc": true}, {"year": 2019, "month": 1, "date": 1, "utc": true},
                  {"year": 2021, "month": 1, "date": 1, "utc": true}
                ],
                "format": "%d/%m/%Y",
                "labelFont": "Lato",
                "labelFontSize": 20.5,
                "labelColor": "#595959",
                "labelPadding": 23,
                "labelBaseline": "line-top",
                "labelLineHeight": 40.5,
                "labelFlush": false,
                "labelOverlap": false,
                "ticks": false,
                "tickSize": 0,
                "domain": false,
                "grid": true,
                "gridColor": "#D9D9D9",
                "gridWidth": 1.5
              }
            },
            "y": {
              "field": "a",
              "type": "quantitative",
              "scale": {"domain": [-100, 500], "nice": false},
              "axis": {
                "title": null,
                "values": [-100, 0, 100, 200, 300, 400, 500],
                "labelExpr": "datum.value < 0 ? '- ' + (-datum.value) + '%' : datum.value + '%'",
                "labelFont": "Lato",
                "labelFontSize": 20,
                "labelColor": "#595959",
                "labelPadding": 20,
                "offset": -97,
                "ticks": false,
                "tickSize": 0,
                "domain": false,
                "grid": false
              }
            },
            "color": {
              "datum": "Rendement_A04",
              "type": "nominal",
              "scale": {
                "domain": ["Rendement_A04", "Rendement_A07", "Rendement_A10", "0,0%"],
                "range": ["#FFC000", "#0070C0", "#FF0000", "#000000"]
              },
              "legend": {
                "title": null,
                "orient": "none",
                "legendX": 1818,
                "legendY": 165,
                "fillColor": "white",
                "padding": 48,
                "labelFont": "Lato",
                "labelFontSize": 27,
                "labelColor": "#595959",
                "labelLimit": 400,
                "labelOffset": 24,
                "rowPadding": 36,
                "symbolSize": 100,
                "symbolStrokeWidth": 2.5
              }
            },
            "shape": {
              "datum": "Rendement_A04",
              "type": "nominal",
              "scale": {
                "domain": ["Rendement_A04", "Rendement_A07", "Rendement_A10", "0,0%"],
                "range": ["M-1,0H1M0,-1V1", "M-1,0H1M0,-1V1", "M-1,0H1M0,-1V1", "M-5,-0.15H5V0.15H-5Z"]
              }
            }
          }
        },
        {
          "data": {"name": "perf"},
          "mark": {"type": "point", "filled": false, "size": 72, "strokeWidth": 2.3, "opacity": 1},
          "encoding": {
            "x": {"field": "d", "type": "temporal"},
            "y": {"field": "b", "type": "quantitative"},
            "color": {"datum": "Rendement_A07", "type": "nominal"},
            "shape": {"datum": "Rendement_A07", "type": "nominal"}
          }
        },
        {
          "data": {"name": "perf"},
          "mark": {"type": "point", "filled": false, "size": 72, "strokeWidth": 2.3, "opacity": 1},
          "encoding": {
            "x": {"field": "d", "type": "temporal"},
            "y": {"field": "c", "type": "quantitative"},
            "color": {"datum": "Rendement_A10", "type": "nominal"},
            "shape": {"datum": "Rendement_A10", "type": "nominal"}
          }
        }
      ]
    }
  ]
}
